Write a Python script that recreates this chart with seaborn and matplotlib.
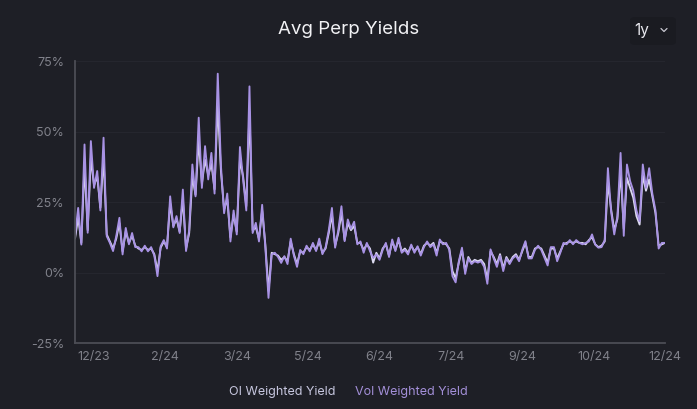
import matplotlib
matplotlib.use("Agg")
import matplotlib.pyplot as plt
import matplotlib.ticker as mticker
from matplotlib.patches import FancyBboxPatch
from matplotlib.lines import Line2D
import seaborn as sns
import pandas as pd

# ---------------- data ----------------
start_date = "2023-12-06"
step = "2D"

vol_weighted = [
    12.9, 22.9, 9.9, 45.4, 14.1, 46.6, 30, 36, 22, 47.8,
    12.9, 10.5, 7.6, 12.9, 19.4, 6.4, 15.8, 10, 14, 9,
    9, 7.5, 9.5, 7.5, 9, 6, -1.3, 9.3, 11.5, 8.5,
    27, 16, 20, 14, 29.4, 7.6, 15, 38.3, 27, 54.9,
    30, 44.8, 33, 42.4, 28, 70.5, 38, 21, 28, 11,
    22, 13.5, 44.5, 33, 22, 66, 14, 17.6, 11, 24,
    9, -9, 6.4, 7, 5.5, 3.4, 5.8, 3, 12, 6,
    2, 8, 6.5, 9.5, 7.5, 10.5, 7.6, 12, 6.5, 9,
    15, 22.9, 8.8, 15, 23.5, 11.1, 18.8, 15.5, 18, 10,
    11, 7, 10.5, 7.6, 5.2, 6.4, 4.5, 8, 10.5, 5.5,
    11.7, 7.6, 12.3, 7, 8, 6.4, 9.9, 7, 9.3, 6,
    9, 11, 9, 10, 6, 11.7, 10, 10.5, 8, -1.3,
    -3.5, 4, 8.8, -0.5, 5, 3, 4, 3.5, 4, 2,
    -4, 8.2, 5, 2, 6, 0.5, 5, 3, 5, 6,
    4, 8, 11.1, 5, 5, 8, 9.5, 8, 5.2, 2.5,
    9, 9, 4, 7, 10.5, 10, 11.5, 10, 11.5, 10.5,
    10, 10.5, 11, 13.5, 9.9, 8.8, 9, 11.5, 37, 21.7,
    13.5, 20, 42.4, 13, 38.3, 32.4, 29, 22, 18.2, 38.3,
    30, 37, 28, 22, 8.5, 10.5, 10.5,
]

oi_weighted = [
    12.0, 19.5, 10.5, 38.0, 15.0, 40.5, 31.0, 34.0, 23.0, 41.0,
    13.5, 11.0, 8.5, 12.0, 17.5, 7.5, 14.5, 10.5, 13.0, 9.5,
    8.5, 8.0, 9.0, 8.0, 8.5, 6.5, 0.5, 8.8, 11.0, 9.0,
    24.5, 16.5, 19.0, 14.5, 26.0, 8.5, 14.0, 34.0, 27.5, 47.0,
    31.5, 40.0, 34.5, 38.5, 29.5, 60.0, 36.0, 22.5, 26.0, 12.5,
    20.5, 14.5, 40.0, 34.0, 23.5, 57.0, 15.0, 16.0, 12.0, 22.0,
    10.0, -6.5, 7.0, 6.5, 6.0, 4.5, 5.5, 4.0, 11.0, 6.5,
    3.0, 7.5, 7.0, 9.0, 8.0, 10.0, 8.0, 11.0, 7.0, 8.5,
    14.0, 20.5, 9.5, 14.0, 21.0, 11.5, 17.5, 15.0, 16.5, 10.5,
    10.5, 8.0, 10.0, 8.5, 3.5, 7.0, 5.0, 8.5, 10.0, 6.0,
    11.0, 8.0, 11.5, 7.5, 8.5, 7.0, 9.5, 7.5, 9.0, 6.5,
    9.5, 10.5, 9.5, 10.5, 7.0, 11.0, 10.5, 10.0, 8.5, 0.5,
    -2.0, 3.5, 8.0, 0.5, 5.5, 3.5, 4.5, 4.0, 4.5, 3.0,
    -2.5, 7.5, 5.5, 3.0, 6.5, 1.5, 5.5, 3.5, 5.5, 6.5,
    4.5, 7.5, 10.5, 5.5, 5.5, 8.5, 9.0, 8.5, 6.0, 3.5,
    8.5, 8.5, 5.0, 7.5, 10.0, 10.5, 11.0, 10.5, 11.0, 10.5,
    10.5, 10.0, 11.5, 12.5, 10.0, 9.0, 9.5, 11.0, 32.0, 22.5,
    15.0, 19.0, 36.0, 15.5, 33.5, 30.0, 26.5, 20.0, 17.0, 34.5,
    29.0, 33.0, 27.0, 21.0, 9.5, 10.0, 10.5,
]

series_names = ["OI Weighted Yield", "Vol Weighted Yield"]
tick_dates = ["2023-12-18", "2024-02-01", "2024-03-17", "2024-05-01", "2024-06-15",
              "2024-07-30", "2024-09-13", "2024-10-28", "2024-12-12"]
tick_labels = ["12/23", "2/24", "3/24", "5/24", "6/24", "7/24", "9/24", "10/24", "12/24"]
y_ticks = [-25, 0, 25, 50, 75]
title = "Avg Perp Yields"

# ---------------- build frame ----------------
n = min(len(vol_weighted), len(oi_weighted))
dates = pd.date_range(start_date, periods=n, freq=step)
df = pd.concat([
    pd.DataFrame({"date": dates, "value": oi_weighted[:n], "series": series_names[0]}),
    pd.DataFrame({"date": dates, "value": vol_weighted[:n], "series": series_names[1]}),
])

# ---------------- style ----------------
BG = "#1e1f26"
sns.set_theme(style="dark")
plt.rcParams["font.family"] = ["Inter", "DejaVu Sans"]

fig = plt.figure(figsize=(6.97, 4.09), dpi=100, facecolor=BG)
ax = fig.add_axes([75 / 697, 1 - 343 / 409, (665 - 75) / 697, (343 - 61) / 409])
ax.set_facecolor(BG)

palette = {series_names[0]: "#dcdaf0", series_names[1]: "#a892e4"}
sns.lineplot(data=df, x="date", y="value", hue="series", palette=palette,
             linewidth=1.35, ax=ax, legend=True)
for ln in ax.get_lines():
    ln.set_solid_joinstyle("round")
    ln.set_solid_capstyle("round")

ax.set_xlim(pd.Timestamp(dates[0]), pd.Timestamp(tick_dates[-1]))
ax.set_ylim(-25, 75)
ax.set_yticks(y_ticks)
ax.yaxis.set_major_formatter(mticker.FuncFormatter(lambda v, p: f"{int(v)}%"))
ax.set_xticks(pd.to_datetime(tick_dates))
ax.set_xticklabels(tick_labels)
ax.set_xlabel("")
ax.set_ylabel("")

ax.tick_params(axis="both", length=0, colors="#80818a", labelsize=9)
ax.tick_params(axis="y", pad=8)
ax.tick_params(axis="x", pad=6)

for s in ["top", "right"]:
    ax.spines[s].set_visible(False)
for s in ["left", "bottom"]:
    ax.spines[s].set_visible(True)
    ax.spines[s].set_color("#4c4d55")
    ax.spines[s].set_linewidth(1.3)

ax.grid(False)
ax.yaxis.grid(True, color="#25262e", linewidth=0.8)

# legend below
handles, labels = ax.get_legend_handles_labels()
ax.get_legend().remove()
leg = fig.legend(handles, labels, loc="center", bbox_to_anchor=(0.5, 1 - 392 / 409),
                 ncol=2, frameon=False, handlelength=0, handletextpad=0,
                 columnspacing=1.6, fontsize=9)
for h in leg.legend_handles:
    h.set_visible(False)
leg.get_texts()[0].set_color("#c6c6de")
leg.get_texts()[1].set_color("#a38fd8")

# title
fig.text(0.5, 1 - 30 / 409, title, ha="center", va="center", color="#f2f2f5", fontsize=13.5)

# "1y" selector
box = FancyBboxPatch((630 / 697, 1 - 45 / 409), 46 / 697, 28 / 409,
                     boxstyle="round,pad=0,rounding_size=0.008",
                     transform=fig.transFigure, facecolor="#1a1b21", edgecolor="none")
fig.add_artist(box)
fig.text(642 / 697, 1 - 31 / 409, "1y", ha="center", va="center", color="#e8e8ee", fontsize=11)
fig.add_artist(Line2D([661 / 697, 664 / 697, 667 / 697],
                      [1 - 28.5 / 409, 1 - 31.5 / 409, 1 - 28.5 / 409],
                      transform=fig.transFigure, color="#c8c8d0", linewidth=0.9))

fig.savefig("out.png", dpi=100, facecolor=BG)
